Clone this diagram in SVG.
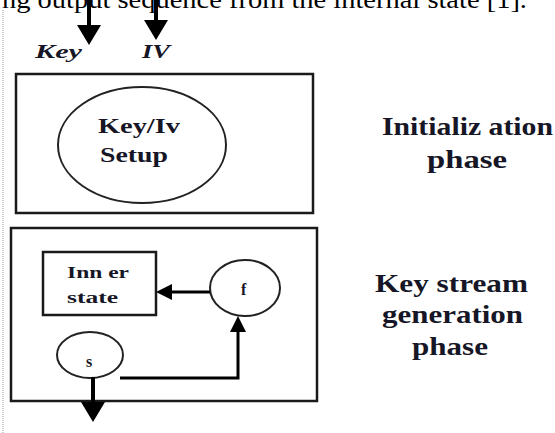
<svg xmlns="http://www.w3.org/2000/svg" width="555" height="433" viewBox="0 0 555 433">
<style>
  .box{fill:none;stroke:#1a1a1a;stroke-width:2.5}
  .oval{fill:none;stroke:#222;stroke-width:2}
  .lbl{font-family:"Liberation Serif","Times New Roman",serif;font-weight:bold;fill:#161626}
  .conn{fill:none;stroke:#000;stroke-width:4}
  .thin{fill:none;stroke:#000;stroke-width:3}
  .body{font-family:"Liberation Serif","Times New Roman",serif;fill:#000}
</style>
<defs>
  <marker id="big" markerUnits="userSpaceOnUse" markerWidth="20" markerHeight="24" viewBox="0 0 20 24" refX="12" refY="12" orient="auto">
    <path d="M0,0 L20,12 L0,24 Z" fill="#000"/>
  </marker>
  <marker id="small" markerUnits="userSpaceOnUse" markerWidth="16" markerHeight="16" viewBox="0 0 16 16" refX="9" refY="8" orient="auto">
    <path d="M0,0 L16,8 L0,16 Z" fill="#000"/>
  </marker>
</defs>
<rect width="555" height="433" fill="#fff"/>
<text class="body" x="2" y="8" font-size="25" textLength="525" lengthAdjust="spacingAndGlyphs">ng output sequence from the internal state [1].</text>
<line x1="3" y1="10" x2="3" y2="433" stroke="#999" stroke-width="1" stroke-dasharray="1,1"/>

<g id="inputs">
  <text class="lbl" x="35" y="58" font-size="18" font-style="italic" textLength="47" lengthAdjust="spacingAndGlyphs">Key</text>
  <text class="lbl" x="142" y="58" font-size="18" font-style="italic" textLength="28" lengthAdjust="spacingAndGlyphs">IV</text>
</g>

<g id="init-phase">
  <rect class="box" x="16" y="74" width="297" height="139"/>
</g>
<g id="keyiv-setup">
  <ellipse class="oval" cx="142" cy="145" rx="84" ry="58"/>
  <text class="lbl" x="98" y="133" font-size="22" textLength="82" lengthAdjust="spacingAndGlyphs">Key/Iv</text>
  <text class="lbl" x="100" y="162" font-size="22" textLength="68" lengthAdjust="spacingAndGlyphs">Setup</text>
</g>
<g id="init-label">
  <text class="lbl" x="382" y="135" font-size="26" textLength="171" lengthAdjust="spacingAndGlyphs">Initializ ation</text>
  <text class="lbl" x="427" y="168" font-size="26" textLength="80" lengthAdjust="spacingAndGlyphs">phase</text>
</g>

<g id="keystream-phase">
  <rect class="box" x="11" y="228" width="306" height="173"/>
</g>
<g id="inner-state">
  <rect class="box" x="43" y="252" width="113" height="63"/>
  <text class="lbl" x="67" y="278" font-size="16" textLength="62" lengthAdjust="spacingAndGlyphs">Inn er</text>
  <text class="lbl" x="67" y="303" font-size="16" textLength="51" lengthAdjust="spacingAndGlyphs">state</text>
</g>
<g id="f-node">
  <ellipse class="oval" cx="245" cy="288" rx="35" ry="28"/>
  <text class="lbl" x="241" y="295" font-size="16">f</text>
</g>
<g id="s-node">
  <ellipse class="oval" cx="90" cy="355" rx="33" ry="23"/>
  <text class="lbl" x="86" y="367" font-size="16">s</text>
</g>
<g id="ks-label">
  <text class="lbl" x="375" y="292" font-size="26" textLength="153" lengthAdjust="spacingAndGlyphs">Key stream</text>
  <text class="lbl" x="382" y="323" font-size="26" textLength="141" lengthAdjust="spacingAndGlyphs">generation</text>
  <text class="lbl" x="412" y="355" font-size="26" textLength="76" lengthAdjust="spacingAndGlyphs">phase</text>
</g>

<g id="connectors">
  <path class="conn" d="M89,0 V37" marker-end="url(#big)"/>
  <path class="conn" d="M156,0 V32" marker-end="url(#big)"/>
  <path class="thin" d="M210,292 H163" marker-end="url(#small)"/>
  <path class="thin" d="M120,378 H238 V323" marker-end="url(#small)"/>
  <path class="conn" d="M93,377 V414" marker-end="url(#big)"/>
</g>
</svg>
